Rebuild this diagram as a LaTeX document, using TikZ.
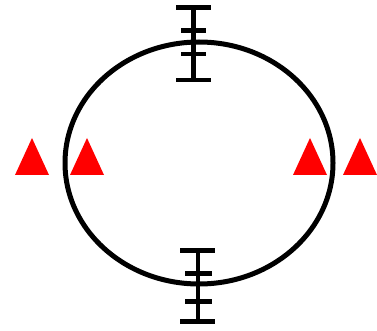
\documentclass[tikz,border=0pt]{standalone}
\begin{document}
\begin{tikzpicture}[x=1pt, y=-1pt, line cap=butt]
    % Khung hình
    \useasboundingbox (0, 0) rectangle (377, 331);

    % Tâm và hình elip
    \coordinate (C) at (199, 163);
    \draw[line width=5pt] (C) ellipse (134 and 121);

    % Thanh đo phía trên
    \draw[line width=4.5pt] (193.5, 6) -- (193.5, 81);
    \draw[line width=4.5pt] (176, 7.5) -- (211, 7.5);
    \draw[line width=4.5pt] (181, 30.5) -- (206, 30.5);
    \draw[line width=4.5pt] (181, 54) -- (206, 54);
    \draw[line width=4.5pt] (176, 80) -- (211, 80);

    % Thanh đo phía dưới
    \draw[line width=4.5pt] (198, 249) -- (198, 323);
    \draw[line width=4.5pt] (180, 250.5) -- (215, 250.5);
    \draw[line width=4.5pt] (185, 273.5) -- (212, 273.5);
    \draw[line width=4.5pt] (185, 301.5) -- (212, 301.5);
    \draw[line width=4.5pt] (180, 321.5) -- (215, 321.5);

    % Các tam giác đỏ hai bên
    \foreach \xc in {32, 87, 310, 360}
        \fill[red] (\xc-17, 175) -- (\xc, 138) -- (\xc+17, 175) -- cycle;
\end{tikzpicture}
\end{document}
